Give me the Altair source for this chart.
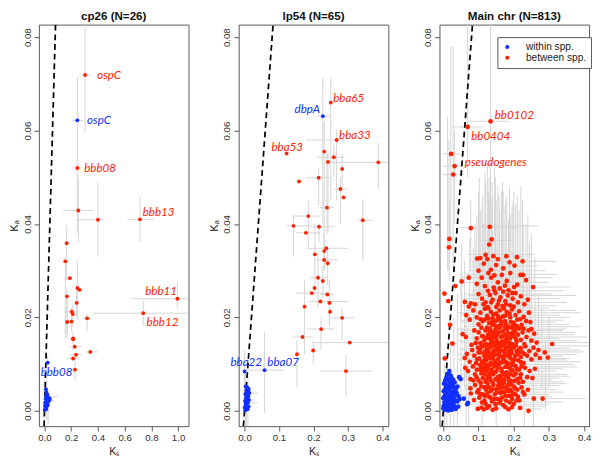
import altair as alt
import pandas as pd

# ---------------- data ----------------
GROUPS = ["within spp.", "between spp."]
YTICKS = [0.0, 0.02, 0.04, 0.06, 0.08]
Y_DOMAIN = [-0.0033, 0.0827]
DIAG = [-0.0033, 0.0827]  # Ka = Ks reference line

# cp26: (Ks, Ka, Ks_lo, Ks_hi, Ka_lo, Ka_hi)
CP26_RED = [
    (0.304, 0.0719, 0.26, 0.35, 0.0596, 0.0827),
    (0.246, 0.0520, 0.214, 0.28, None, None),
    (0.253, 0.0429, 0.14, 0.37, 0.036, 0.050),
    (0.400, 0.0409, 0.24, 0.45, 0.033, 0.0489),
    (0.715, 0.0410, 0.62, 0.82, 0.0361, 0.0458),
    (0.166, 0.0359, None, None, 0.028, 0.0397),
    (0.156, 0.0320, None, None, 0.0155, 0.033),
    (0.190, 0.0284, 0.17, 0.21, None, None),
    (0.168, 0.0245, None, None, 0.0155, 0.0265),
    (0.246, 0.0263, None, None, 0.0195, 0.032),
    (0.263, 0.0259, 0.24, 0.29, None, None),
    (0.241, 0.0231, None, None, 0.020, 0.026),
    (0.204, 0.0212, 0.141, 0.263, None, None),
    (0.212, 0.0207, None, None, 0.018, 0.023),
    (0.170, 0.0190, None, None, 0.0165, 0.025),
    (0.202, 0.0191, None, None, 0.017, 0.022),
    (0.319, 0.0198, 0.29, 0.35, 0.017, 0.0208),
    (0.214, 0.0155, None, None, 0.014, 0.017),
    (0.214, 0.0153, 0.19, 0.23, None, None),
    (0.226, 0.0137, 0.19, 0.28, None, None),
    (0.343, 0.0126, 0.31, 0.40, None, None),
    (0.236, 0.0120, 0.19, 0.28, None, None),
    (0.214, 0.0112, 0.17, 0.26, None, None),
    (0.228, 0.0088, 0.20, 0.26, 0.0065, 0.011),
    (0.995, 0.0240, 0.64, 1.078, 0.0220, 0.0276),
    (0.739, 0.0209, 0.36, 1.078, 0.0182, 0.0236),
]
CP26_BLUE = [
    (0.246, 0.0622, 0.20, 0.29, 0.038, 0.0714),
    (0.024, 0.0103, 0.015, 0.032, 0.0085, 0.012),
    (0.010, 0.0046, None, None, 0.003, 0.006),
    (0.015, 0.0040, None, None, None, None),
    (0.020, 0.0035, 0.005, 0.045, None, None),
    (0.012, 0.0032, None, None, None, None),
    (0.025, 0.0030, 0.01, 0.10, None, None),
    (0.018, 0.0028, None, None, -0.002, 0.0063),
    (0.030, 0.0027, 0.015, 0.06, None, None),
    (0.008, 0.0025, None, None, None, None),
    (0.022, 0.0024, None, None, None, None),
    (0.035, 0.0022, 0.02, 0.07, None, None),
    (0.014, 0.0020, None, None, None, None),
    (0.027, 0.0019, None, None, -0.003, 0.004),
    (0.005, 0.0017, None, None, None, None),
    (0.019, 0.0015, None, None, None, None),
    (0.011, 0.0013, None, None, None, None),
    (0.024, 0.0012, None, None, None, None),
    (0.003, 0.0010, None, None, None, None),
    (0.016, 0.0008, None, None, None, None),
    (0.008, 0.0005, None, None, None, None),
    (0.013, 0.0003, None, None, None, None),
    (0.040, 0.0026, None, None, None, None),
    (0.001, 0.0002, None, None, None, None),
]

LP54_RED = [
    (0.250, 0.0660, None, None, 0.045, 0.0713),
    (0.267, 0.0580, 0.178, 0.29, 0.045, 0.060),
    (0.122, 0.0551, None, None, None, None),
    (0.231, 0.0555, None, None, 0.030, 0.062),
    (0.259, 0.0543, 0.21, 0.29, 0.050, 0.057),
    (0.242, 0.0533, None, None, 0.038, 0.056),
    (0.388, 0.0532, 0.25, 0.417, 0.0475, 0.0575),
    (0.283, 0.0518, None, None, 0.047, 0.055),
    (0.158, 0.0491, None, None, None, None),
    (0.215, 0.0499, 0.18, 0.25, 0.044, 0.052),
    (0.278, 0.0475, 0.26, 0.30, 0.040, 0.050),
    (0.287, 0.0457, None, None, None, None),
    (0.239, 0.0435, 0.215, 0.26, 0.038, 0.055),
    (0.185, 0.0417, 0.14, 0.22, 0.035, 0.045),
    (0.343, 0.0408, 0.33, 0.37, 0.032, 0.0452),
    (0.142, 0.0396, 0.12, 0.19, 0.033, 0.042),
    (0.216, 0.0394, 0.19, 0.26, 0.036, 0.040),
    (0.178, 0.0381, 0.15, 0.22, None, None),
    (0.237, 0.0348, 0.18, 0.30, None, None),
    (0.231, 0.0342, None, None, 0.030, 0.038),
    (0.204, 0.0335, None, None, 0.025, 0.040),
    (0.231, 0.0323, 0.20, 0.27, None, None),
    (0.241, 0.0316, None, None, 0.027, 0.035),
    (0.213, 0.0285, 0.19, 0.24, 0.022, 0.034),
    (0.227, 0.0278, None, None, 0.024, 0.031),
    (0.203, 0.0263, None, None, None, None),
    (0.195, 0.0252, 0.15, 0.24, None, None),
    (0.240, 0.0249, 0.22, 0.26, None, None),
    (0.220, 0.0234, 0.19, 0.30, None, None),
    (0.246, 0.0231, None, None, 0.018, 0.028),
    (0.174, 0.0223, None, None, 0.012, 0.028),
    (0.248, 0.0212, None, None, None, None),
    (0.283, 0.0199, 0.25, 0.32, 0.015, 0.022),
    (0.222, 0.0175, 0.18, 0.26, 0.013, 0.020),
    (0.168, 0.0158, 0.14, 0.20, None, None),
    (0.305, 0.0146, 0.20, 0.417, None, None),
    (0.199, 0.0129, None, None, 0.010, 0.015),
    (0.152, 0.0121, None, None, 0.005, 0.015),
    (0.294, 0.0085, 0.22, 0.37, 0.003, 0.012),
]
LP54_BLUE = [
    (0.227, 0.0631, 0.21, 0.25, 0.040, 0.0713),
    (0.058, 0.0087, 0.0, 0.115, -0.0005, 0.017),
    (0.000, 0.0084, None, None, 0.001, 0.013),
    (0.003, 0.0052, None, None, -0.0033, 0.009),
    (0.008, 0.0050, None, None, None, None),
    (0.012, 0.0047, None, None, None, None),
    (0.005, 0.0044, None, None, None, None),
    (0.010, 0.0041, None, None, -0.0033, 0.007),
    (0.014, 0.0038, 0.0, 0.038, None, None),
    (0.002, 0.0036, None, None, None, None),
    (0.007, 0.0034, None, None, None, None),
    (0.011, 0.0031, None, None, None, None),
    (0.004, 0.0028, None, None, None, None),
    (0.009, 0.0025, None, None, None, None),
    (0.013, 0.0023, 0.0, 0.030, None, None),
    (0.001, 0.0021, None, None, None, None),
    (0.006, 0.0019, None, None, -0.0033, 0.006),
    (0.010, 0.0017, 0.0, 0.038, None, None),
    (0.003, 0.0014, None, None, None, None),
    (0.008, 0.0011, None, None, None, None),
    (0.012, 0.0009, None, None, None, None),
    (0.000, 0.0007, None, None, None, None),
    (0.005, 0.0005, None, None, None, None),
    (0.009, 0.0003, None, None, None, None),
    (0.002, 0.0001, None, None, None, None),
    (0.007, 0.0030, None, None, None, None),
    (0.004, 0.0010, None, None, None, None),
    (0.011, 0.0044, None, None, None, None),
]

# Main chromosome: (Ks, Ka)
MAIN_RED = [
    (0.134, 0.0620), (0.069, 0.0608), (0.022, 0.0550), (0.032, 0.0524), (0.028, 0.0506),
    (0.078, 0.0391), (0.132, 0.0394), (0.137, 0.0367), (0.130, 0.0356), (0.017, 0.0368), (0.016, 0.0350),
    (0.096, 0.0326), (0.105, 0.0327), (0.120, 0.0334), (0.125, 0.0325), (0.142, 0.0331), (0.155, 0.0325),
    (0.179, 0.0331), (0.209, 0.0329), (0.202, 0.0311), (0.170, 0.0305), (0.115, 0.0315), (0.150, 0.0312),
    (0.188, 0.0318), (0.135, 0.0302), (0.225, 0.0320), (0.100, 0.0300),
    (0.226, 0.0291), (0.219, 0.0291), (0.166, 0.0291), (0.180, 0.0278), (0.109, 0.0285), (0.136, 0.0285),
    (0.072, 0.0285), (0.052, 0.0277), (0.034, 0.0267), (0.095, 0.0272), (0.118, 0.0267), (0.143, 0.0264),
    (0.201, 0.0265), (0.255, 0.0265), (0.155, 0.0275), (0.190, 0.0295), (0.128, 0.0295), (0.210, 0.0270),
    (0.160, 0.0262), (0.235, 0.0280), (0.145, 0.0290), (0.175, 0.0268),
    (0.127, 0.0257), (0.003, 0.0251), (0.014, 0.0235), (0.078, 0.0230), (0.072, 0.0223), (0.061, 0.0233),
    (0.100, 0.0250), (0.110, 0.0240), (0.120, 0.0232), (0.132, 0.0248), (0.140, 0.0238), (0.148, 0.0252),
    (0.155, 0.0228), (0.162, 0.0243), (0.170, 0.0255), (0.176, 0.0235), (0.183, 0.0247), (0.190, 0.0226),
    (0.197, 0.0240), (0.205, 0.0252), (0.212, 0.0232), (0.220, 0.0245), (0.230, 0.0228), (0.240, 0.0238),
    (0.150, 0.0222), (0.125, 0.0222), (0.168, 0.0224), (0.200, 0.0223), (0.090, 0.0228), (0.185, 0.0258),
    (0.145, 0.0258),
    (0.019, 0.0184), (0.085, 0.0215), (0.095, 0.0200), (0.105, 0.0210), (0.112, 0.0192), (0.118, 0.0218),
    (0.124, 0.0203), (0.130, 0.0188), (0.135, 0.0212), (0.140, 0.0198), (0.145, 0.0183), (0.150, 0.0208),
    (0.155, 0.0195), (0.160, 0.0215), (0.165, 0.0185), (0.170, 0.0202), (0.175, 0.0192), (0.180, 0.0212),
    (0.185, 0.0180), (0.190, 0.0200), (0.195, 0.0217), (0.200, 0.0188), (0.205, 0.0205), (0.210, 0.0195),
    (0.215, 0.0213), (0.222, 0.0184), (0.228, 0.0201), (0.235, 0.0192), (0.247, 0.0190), (0.243, 0.0210),
    (0.100, 0.0185), (0.128, 0.0220), (0.158, 0.0182), (0.172, 0.0219), (0.198, 0.0182), (0.138, 0.0185),
    (0.118, 0.0195), (0.188, 0.0208), (0.162, 0.0198), (0.148, 0.0192), (0.208, 0.0182), (0.178, 0.0185),
    (0.075, 0.0195), (0.065, 0.0205),
    (0.055, 0.0164), (0.064, 0.0158), (0.080, 0.0141), (0.088, 0.0172), (0.095, 0.0155), (0.100, 0.0168),
    (0.105, 0.0145), (0.108, 0.0178), (0.112, 0.0160), (0.116, 0.0150), (0.120, 0.0172), (0.124, 0.0142),
    (0.127, 0.0163), (0.130, 0.0155), (0.133, 0.0176), (0.136, 0.0147), (0.139, 0.0168), (0.142, 0.0158),
    (0.145, 0.0142), (0.148, 0.0174), (0.151, 0.0152), (0.154, 0.0165), (0.157, 0.0145), (0.160, 0.0178),
    (0.163, 0.0158), (0.166, 0.0148), (0.169, 0.0170), (0.172, 0.0140), (0.175, 0.0162), (0.178, 0.0152),
    (0.181, 0.0175), (0.184, 0.0145), (0.187, 0.0165), (0.190, 0.0155), (0.193, 0.0178), (0.196, 0.0142),
    (0.200, 0.0160), (0.204, 0.0170), (0.208, 0.0148), (0.212, 0.0163), (0.216, 0.0176), (0.220, 0.0152),
    (0.225, 0.0168), (0.230, 0.0143), (0.236, 0.0158), (0.242, 0.0172), (0.250, 0.0150), (0.258, 0.0165),
    (0.265, 0.0146), (0.309, 0.0143), (0.026, 0.0144), (0.118, 0.0140), (0.158, 0.0168), (0.174, 0.0178),
    (0.199, 0.0176), (0.135, 0.0160), (0.110, 0.0140), (0.092, 0.0145), (0.228, 0.0176), (0.250, 0.0175),
    (0.061, 0.0113), (0.067, 0.0122), (0.075, 0.0105), (0.082, 0.0130), (0.088, 0.0118), (0.093, 0.0102),
    (0.098, 0.0135), (0.102, 0.0112), (0.106, 0.0125), (0.110, 0.0105), (0.113, 0.0138), (0.116, 0.0118),
    (0.119, 0.0128), (0.122, 0.0108), (0.125, 0.0133), (0.128, 0.0115), (0.131, 0.0122), (0.134, 0.0102),
    (0.137, 0.0137), (0.140, 0.0112), (0.143, 0.0128), (0.146, 0.0106), (0.149, 0.0120), (0.152, 0.0134),
    (0.155, 0.0110), (0.158, 0.0125), (0.161, 0.0103), (0.164, 0.0138), (0.167, 0.0116), (0.170, 0.0128),
    (0.173, 0.0108), (0.176, 0.0132), (0.179, 0.0118), (0.182, 0.0102), (0.185, 0.0126), (0.188, 0.0138),
    (0.191, 0.0112), (0.194, 0.0124), (0.197, 0.0105), (0.200, 0.0135), (0.204, 0.0118), (0.208, 0.0128),
    (0.212, 0.0108), (0.216, 0.0133), (0.220, 0.0115), (0.224, 0.0125), (0.228, 0.0102), (0.233, 0.0138),
    (0.238, 0.0118), (0.244, 0.0128), (0.250, 0.0110), (0.256, 0.0135), (0.262, 0.0120), (0.270, 0.0130),
    (0.274, 0.0113), (0.297, 0.0114), (0.288, 0.0125), (0.004, 0.0112), (0.115, 0.0102), (0.150, 0.0138),
    (0.180, 0.0135), (0.140, 0.0125), (0.170, 0.0112), (0.195, 0.0138), (0.160, 0.0118), (0.125, 0.0120),
    (0.100, 0.0125), (0.210, 0.0120), (0.230, 0.0122),
    (0.062, 0.0092), (0.070, 0.0085), (0.077, 0.0068), (0.084, 0.0095), (0.090, 0.0078), (0.095, 0.0088),
    (0.100, 0.0065), (0.104, 0.0098), (0.108, 0.0080), (0.112, 0.0070), (0.116, 0.0092), (0.120, 0.0062),
    (0.123, 0.0085), (0.127, 0.0075), (0.130, 0.0097), (0.134, 0.0066), (0.137, 0.0088), (0.141, 0.0078),
    (0.144, 0.0095), (0.148, 0.0068), (0.151, 0.0085), (0.155, 0.0072), (0.158, 0.0098), (0.162, 0.0062),
    (0.165, 0.0090), (0.169, 0.0078), (0.172, 0.0066), (0.176, 0.0094), (0.180, 0.0082), (0.184, 0.0070),
    (0.188, 0.0092), (0.192, 0.0064), (0.196, 0.0086), (0.200, 0.0076), (0.205, 0.0096), (0.210, 0.0068),
    (0.215, 0.0088), (0.220, 0.0078), (0.226, 0.0062), (0.232, 0.0092), (0.238, 0.0072), (0.245, 0.0085),
    (0.253, 0.0070), (0.260, 0.0090), (0.118, 0.0078), (0.146, 0.0082), (0.174, 0.0080), (0.198, 0.0098),
    (0.133, 0.0080), (0.160, 0.0075), (0.190, 0.0078), (0.105, 0.0088), (0.222, 0.0095), (0.085, 0.0065),
    (0.077, 0.0048), (0.078, 0.0037), (0.087, 0.0023), (0.090, 0.0055), (0.096, 0.0040), (0.102, 0.0028),
    (0.108, 0.0052), (0.112, 0.0035), (0.117, 0.0022), (0.121, 0.0045), (0.126, 0.0058), (0.130, 0.0030),
    (0.134, 0.0042), (0.138, 0.0020), (0.142, 0.0055), (0.146, 0.0035), (0.150, 0.0046), (0.154, 0.0025),
    (0.158, 0.0057), (0.162, 0.0038), (0.166, 0.0028), (0.170, 0.0050), (0.174, 0.0040), (0.178, 0.0022),
    (0.182, 0.0055), (0.186, 0.0032), (0.190, 0.0045), (0.195, 0.0025), (0.200, 0.0052), (0.205, 0.0035),
    (0.210, 0.0045), (0.216, 0.0022), (0.222, 0.0050), (0.230, 0.0035), (0.240, 0.0045), (0.257, 0.0026),
    (0.282, 0.0026), (0.125, 0.0038), (0.160, 0.0048), (0.185, 0.0042), (0.145, 0.0025), (0.100, 0.0045),
    (0.098, 0.0004), (0.108, 0.0007), (0.130, 0.0010), (0.150, 0.0005), (0.170, 0.0012), (0.185, 0.0003),
    (0.218, 0.0006), (0.242, 0.0000), (0.120, 0.0015), (0.160, 0.0017), (0.200, 0.0015), (0.140, 0.0002),
    (0.115, 0.0003), (0.195, 0.0008),
    (0.132, 0.0170), (0.146, 0.0166), (0.168, 0.0160), (0.182, 0.0166), (0.152, 0.0180), (0.122, 0.0156),
    (0.188, 0.0146), (0.206, 0.0154), (0.138, 0.0150), (0.162, 0.0140), (0.176, 0.0146), (0.198, 0.0168),
    (0.128, 0.0130), (0.142, 0.0118), (0.156, 0.0130), (0.168, 0.0104), (0.186, 0.0116), (0.202, 0.0110),
    (0.134, 0.0112), (0.148, 0.0130), (0.174, 0.0122), (0.192, 0.0130), (0.214, 0.0124), (0.118, 0.0110),
    (0.126, 0.0090), (0.140, 0.0100), (0.154, 0.0092), (0.166, 0.0084), (0.182, 0.0094), (0.194, 0.0100),
    (0.208, 0.0090), (0.132, 0.0070), (0.156, 0.0064), (0.178, 0.0074), (0.202, 0.0064), (0.112, 0.0086),
    (0.140, 0.0060), (0.168, 0.0056), (0.192, 0.0056), (0.214, 0.0060), (0.118, 0.0050), (0.152, 0.0040),
    (0.176, 0.0032), (0.196, 0.0040), (0.134, 0.0028), (0.162, 0.0022), (0.188, 0.0018), (0.212, 0.0030),
    (0.128, 0.0198), (0.142, 0.0206), (0.156, 0.0202), (0.176, 0.0204), (0.192, 0.0190), (0.218, 0.0196),
    (0.136, 0.0232), (0.158, 0.0236), (0.178, 0.0228), (0.196, 0.0252), (0.114, 0.0228), (0.106, 0.0196),
    (0.110, 0.0160), (0.124, 0.0178), (0.138, 0.0190), (0.150, 0.0160), (0.164, 0.0190), (0.180, 0.0158),
    (0.194, 0.0164), (0.210, 0.0178), (0.104, 0.0132), (0.118, 0.0122), (0.132, 0.0140), (0.146, 0.0146),
    (0.160, 0.0132), (0.174, 0.0150), (0.190, 0.0120), (0.206, 0.0140), (0.220, 0.0134), (0.096, 0.0110),
    (0.108, 0.0094), (0.122, 0.0098), (0.136, 0.0080), (0.150, 0.0100), (0.164, 0.0070), (0.178, 0.0104),
    (0.192, 0.0088), (0.206, 0.0080), (0.220, 0.0104), (0.094, 0.0072), (0.106, 0.0060), (0.124, 0.0068),
    (0.138, 0.0046), (0.156, 0.0054), (0.172, 0.0062), (0.186, 0.0064), (0.204, 0.0048), (0.218, 0.0070),
    (0.104, 0.0036), (0.118, 0.0032), (0.130, 0.0050), (0.148, 0.0014), (0.166, 0.0040), (0.180, 0.0048),
    (0.194, 0.0032), (0.208, 0.0022), (0.124, 0.0006), (0.176, 0.0008), (0.110, 0.0018), (0.226, 0.0040),
]
MAIN_BLUE = [
    (0.017, 0.0085), (0.012, 0.0078), (0.020, 0.0076),
    (0.008, 0.0070), (0.015, 0.0068), (0.022, 0.0072), (0.028, 0.0066), (0.045, 0.0072), (0.049, 0.0068),
    (0.005, 0.0064), (0.018, 0.0062), (0.032, 0.0061),
    (0.002, 0.0058), (0.010, 0.0056), (0.016, 0.0052), (0.024, 0.0057), (0.030, 0.0050), (0.006, 0.0048),
    (0.013, 0.0046), (0.020, 0.0049), (0.027, 0.0054), (0.036, 0.0047), (0.040, 0.0052),
    (0.001, 0.0042), (0.007, 0.0040), (0.012, 0.0035), (0.018, 0.0043), (0.023, 0.0038), (0.029, 0.0041),
    (0.034, 0.0034), (0.004, 0.0033), (0.015, 0.0031), (0.021, 0.0030), (0.026, 0.0032), (0.009, 0.0044),
    (0.038, 0.0038), (0.043, 0.0031),
    (0.000, 0.0027), (0.005, 0.0025), (0.010, 0.0022), (0.014, 0.0028), (0.019, 0.0024), (0.024, 0.0020),
    (0.030, 0.0026), (0.035, 0.0022), (0.003, 0.0018), (0.008, 0.0016), (0.017, 0.0017), (0.028, 0.0016),
    (0.040, 0.0020), (0.046, 0.0025), (0.058, 0.0026), (0.012, 0.0029), (0.022, 0.0027),
    (0.001, 0.0010), (0.006, 0.0008), (0.011, 0.0012), (0.016, 0.0006), (0.021, 0.0011), (0.026, 0.0007),
    (0.031, 0.0010), (0.004, 0.0003), (0.009, 0.0002), (0.014, 0.0001), (0.019, 0.0003), (0.024, 0.0002),
    (0.035, 0.0004), (0.042, 0.0009), (0.070, 0.0017), (0.068, 0.0014), (0.000, 0.0005),
]
# Main chromosome confidence intervals: horizontal (Ka, Ks_lo, Ks_hi)
MAIN_HSEG = [
    (0.0620, 0.072, 0.187), (0.0608, 0.026, 0.113), (0.0550, 0.0, 0.060), (0.0524, 0.0, 0.070),
    (0.0506, 0.0, 0.060), (0.0392, 0.044, 0.21), (0.0396, 0.10, 0.27), (0.0365, 0.10, 0.20),
    (0.0335, 0.07, 0.26), (0.0320, 0.08, 0.32), (0.0310, 0.08, 0.27), (0.0292, 0.06, 0.325),
    (0.0275, 0.05, 0.30), (0.0265, 0.09, 0.362), (0.0250, 0.06, 0.31), (0.0247, 0.07, 0.376),
    (0.0225, 0.05, 0.32), (0.0215, 0.06, 0.376), (0.0205, 0.05, 0.33), (0.0194, 0.05, 0.343),
    (0.0185, 0.07, 0.36), (0.0175, 0.04, 0.35), (0.0168, 0.05, 0.376), (0.0158, 0.06, 0.408),
    (0.0150, 0.04, 0.38), (0.0146, 0.05, 0.414), (0.0139, 0.06, 0.414), (0.0130, 0.05, 0.39),
    (0.0121, 0.04, 0.38), (0.0112, 0.05, 0.36), (0.0105, 0.06, 0.39), (0.0099, 0.05, 0.37),
    (0.0090, 0.06, 0.34), (0.0078, 0.05, 0.353), (0.0070, 0.05, 0.33), (0.0062, 0.07, 0.34),
    (0.0054, 0.06, 0.33), (0.0045, 0.06, 0.32), (0.0035, 0.05, 0.30), (0.0026, 0.07, 0.403),
    (0.0019, 0.08, 0.339), (0.0010, 0.09, 0.29), (0.0004, 0.09, 0.28),
    (0.0300, 0.07, 0.29), (0.0285, 0.05, 0.31), (0.0257, 0.08, 0.34), (0.0240, 0.05, 0.33),
    (0.0232, 0.06, 0.35), (0.0220, 0.07, 0.30), (0.0210, 0.04, 0.39), (0.0200, 0.06, 0.36),
    (0.0190, 0.05, 0.32), (0.0180, 0.06, 0.39), (0.0172, 0.05, 0.34), (0.0163, 0.04, 0.37),
    (0.0155, 0.06, 0.33), (0.0134, 0.05, 0.36), (0.0126, 0.06, 0.40), (0.0117, 0.05, 0.34),
    (0.0109, 0.04, 0.35), (0.0094, 0.06, 0.38), (0.0085, 0.05, 0.32), (0.0074, 0.06, 0.36),
    (0.0066, 0.05, 0.31), (0.0058, 0.07, 0.35), (0.0049, 0.06, 0.30), (0.0040, 0.07, 0.34),
    (0.0030, 0.06, 0.31), (0.0014, 0.07, 0.30),
]
# vertical (Ks, Ka_lo, Ka_hi)
MAIN_VSEG = [
    (0.021, 0.035, 0.078), (0.028, 0.030, 0.078), (0.032, 0.040, 0.060), (0.069, 0.050, 0.0827),
    (0.134, 0.039, 0.0827), (0.078, 0.030, 0.045), (0.132, 0.030, 0.046), (0.012, 0.030, 0.063),
    (0.016, 0.030, 0.058), (0.085, 0.012, 0.035), (0.090, 0.018, 0.040), (0.100, 0.022, 0.047),
    (0.105, 0.015, 0.043), (0.110, 0.020, 0.044), (0.115, 0.012, 0.040), (0.120, 0.022, 0.049),
    (0.125, 0.018, 0.053), (0.130, 0.020, 0.050), (0.135, 0.015, 0.044), (0.140, 0.020, 0.046),
    (0.145, 0.025, 0.052), (0.150, 0.018, 0.045), (0.155, 0.020, 0.048), (0.160, 0.022, 0.043),
    (0.165, 0.015, 0.047), (0.170, 0.020, 0.047), (0.175, 0.025, 0.044), (0.180, 0.020, 0.045),
    (0.185, 0.015, 0.041), (0.190, 0.020, 0.042), (0.195, 0.018, 0.044), (0.200, 0.020, 0.047),
    (0.210, 0.022, 0.046), (0.220, 0.020, 0.048), (0.228, 0.015, 0.040), (0.235, 0.015, 0.040),
    (0.250, 0.012, 0.038), (0.260, 0.010, 0.033), (0.270, 0.008, 0.025), (0.060, 0.005, 0.032),
    (0.050, 0.000, 0.030), (0.040, -0.0033, 0.025), (0.030, -0.0033, 0.020), (0.020, -0.0033, 0.015),
    (0.010, -0.0033, 0.012), (0.003, -0.0033, 0.010), (0.065, -0.0033, 0.020), (0.072, -0.0033, 0.012),
    (0.256, -0.0033, 0.008), (0.110, -0.0033, 0.005), (0.150, -0.0033, 0.004), (0.190, -0.0033, 0.005),
    (0.230, -0.0033, 0.004), (0.290, 0.000, 0.015), (0.300, 0.005, 0.020), (0.017, 0.028, 0.045),
    (0.052, 0.020, 0.036), (0.075, 0.020, 0.037),
    (0.095, 0.020, 0.042), (0.102, 0.025, 0.050), (0.112, 0.018, 0.046), (0.118, 0.025, 0.051),
    (0.128, 0.022, 0.047), (0.138, 0.018, 0.049), (0.148, 0.022, 0.050), (0.158, 0.020, 0.046),
    (0.168, 0.018, 0.049), (0.178, 0.022, 0.046), (0.188, 0.020, 0.048), (0.198, 0.022, 0.045),
    (0.205, 0.018, 0.044), (0.215, 0.020, 0.043), (0.225, 0.018, 0.045), (0.240, 0.015, 0.042),
    (0.245, 0.012, 0.036), (0.280, 0.005, 0.022),
]

# gene labels: (text, Ks, Ka, group)
CP26_LABELS = [
    ("ospC", 0.394, 0.0719, "between spp."), ("ospC", 0.319, 0.0622, "within spp."),
    ("bbb08", 0.297, 0.0520, "between spp."), ("bbb13", 0.735, 0.0425, "between spp."),
    ("bbb11", 0.754, 0.0257, "between spp."), ("bbb12", 0.764, 0.0189, "between spp."),
    ("bbb08", -0.029, 0.0083, "within spp."),
]
LP54_LABELS = [
    ("bba65", 0.257, 0.0670, "between spp."), ("dbpA", 0.145, 0.0645, "within spp."),
    ("bba33", 0.274, 0.0591, "between spp."), ("bba53", 0.078, 0.0565, "between spp."),
    ("bba22", -0.041, 0.0104, "within spp."), ("bba07", 0.066, 0.0104, "within spp."),
]
MAIN_LABELS = [
    ("bb0102", 0.146, 0.0634, "between spp."), ("bb0404", 0.079, 0.0589, "between spp."),
    ("pseudogenes", 0.061, 0.0532, "between spp."),
]

# ---------------- styling ----------------
RED = "#ff2200"
BLUE = "#1030ff"
GREY = "#d4d4d4"
FONT = "Liberation Sans"
COLOR_SCALE = alt.Scale(domain=GROUPS, range=[BLUE, RED])
PANEL_W, PANEL_H = 155, 416


def tables_from_errors(red, blue):
    pts, hs, vs = [], [], []
    for grp, rows in (("between spp.", red), ("within spp.", blue)):
        for r in rows:
            pts.append({"x": r[0], "y": r[1], "grp": grp})
            if r[2] is not None:
                hs.append({"y": r[1], "x1": r[2], "x2": r[3]})
            if r[4] is not None:
                vs.append({"x": r[0], "y1": r[4], "y2": r[5]})
    return pd.DataFrame(pts), pd.DataFrame(hs), pd.DataFrame(vs)


def panel(title, pts, hs, vs, labels, xdom, xticks, legend, psize):
    xs = alt.Scale(domain=xdom, nice=False, zero=False)
    ys = alt.Scale(domain=Y_DOMAIN, nice=False, zero=False)
    xaxis = alt.Axis(values=xticks, format=".1f", title="Kₛ")
    yaxis = alt.Axis(values=YTICKS, format=".2f", title="Kₐ", labelAngle=270,
                     labelAlign="center", labelBaseline="bottom")
    hrule = alt.Chart(hs).mark_rule(color=GREY, strokeWidth=1, clip=True).encode(
        x=alt.X("x1:Q", scale=xs, axis=xaxis), x2="x2:Q",
        y=alt.Y("y:Q", scale=ys, axis=yaxis))
    vrule = alt.Chart(vs).mark_rule(color=GREY, strokeWidth=1, clip=True).encode(
        x=alt.X("x:Q", scale=xs, axis=xaxis),
        y=alt.Y("y1:Q", scale=ys, axis=yaxis), y2="y2:Q")
    diag = alt.Chart(pd.DataFrame({"x": DIAG, "y": DIAG})).mark_line(
        color="black", strokeDash=[6, 4], strokeWidth=1.8, clip=True).encode(
        x=alt.X("x:Q", scale=xs, axis=xaxis), y=alt.Y("y:Q", scale=ys, axis=yaxis))
    dots = alt.Chart(pts).mark_circle(size=psize, opacity=1).encode(
        x=alt.X("x:Q", scale=xs, axis=xaxis),
        y=alt.Y("y:Q", scale=ys, axis=yaxis),
        color=alt.Color("grp:N", scale=COLOR_SCALE, legend=legend))
    ldf = pd.DataFrame(labels, columns=["t", "x", "y", "grp"])
    ldf["col"] = ldf["grp"].map({"between spp.": RED, "within spp.": BLUE})
    text = alt.Chart(ldf).mark_text(align="left", baseline="middle", font="Lato",
                                    fontStyle="italic", fontSize=12).encode(
        x=alt.X("x:Q", scale=xs, axis=xaxis), y=alt.Y("y:Q", scale=ys, axis=yaxis),
        text="t:N", color=alt.Color("col:N", scale=None))
    return alt.layer(hrule, vrule, diag, dots, text).properties(
        width=PANEL_W, height=PANEL_H,
        title=alt.TitleParams(title, fontSize=12, fontWeight="bold", font=FONT,
                              color="#111", offset=2))


p1_pts, p1_h, p1_v = tables_from_errors(CP26_RED, CP26_BLUE)
p2_pts, p2_h, p2_v = tables_from_errors(LP54_RED, LP54_BLUE)
p3_pts = pd.DataFrame([{"x": a, "y": b, "grp": "between spp."} for a, b in MAIN_RED] +
                      [{"x": a, "y": b, "grp": "within spp."} for a, b in MAIN_BLUE])
p3_h = pd.DataFrame(MAIN_HSEG, columns=["y", "x1", "x2"])
p3_v = pd.DataFrame(MAIN_VSEG, columns=["x", "y1", "y2"])

legend3 = alt.Legend(title=None, orient="none", legendX=60, legendY=13,
                     strokeColor="#555", fillColor="white", padding=5,
                     symbolType="circle", symbolSize=18, symbolStrokeWidth=0,
                     labelFont=FONT, labelFontSize=10.5, labelColor="#222",
                     labelOffset=14, rowPadding=0)

c1 = panel("cp26 (N=26)", p1_pts, p1_h, p1_v, CP26_LABELS, [-0.042, 1.078],
           [0.0, 0.2, 0.4, 0.6, 0.8, 1.0], None, 16)
c2 = panel("lp54 (N=65)", p2_pts, p2_h, p2_v, LP54_LABELS, [-0.017, 0.417],
           [0.0, 0.1, 0.2, 0.3, 0.4], None, 16)
c3 = panel("Main chr (N=813)", p3_pts, p3_h, p3_v, MAIN_LABELS, [-0.011, 0.414],
           [0.0, 0.1, 0.2, 0.3, 0.4], legend3, 24)

chart = alt.hconcat(c1, c2, c3, spacing=19).resolve_scale(
    x="independent", y="independent", color="independent"
).properties(
    padding={"left": 0, "top": -7, "right": 0, "bottom": 0}
).configure_view(
    stroke="#555", strokeWidth=1, fill=None
).configure_axis(
    labelFont=FONT, labelFontSize=10, labelColor="#333",
    titleFont=FONT, titleFontSize=11, titleColor="#222", titleFontWeight="normal",
    tickColor="#555", tickSize=5, domain=False, grid=False,
    labelPadding=2, titlePadding=3
)

chart.save("out.html", embed_options={"renderer": "svg", "actions": False})
